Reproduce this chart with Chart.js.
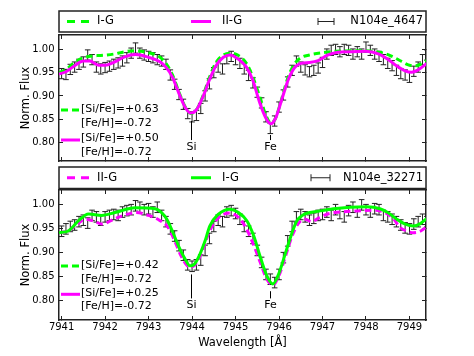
<!DOCTYPE html>
<html>
<head>
<meta charset="utf-8">
<style>
  html, body { margin: 0; padding: 0; background: #fff; }
  #wrap { position: relative; width: 474px; height: 356px; }
  #wrap canvas { position: absolute; left: 0; }
  #topChart { top: 0; }
  #botChart { top: 166px; }
</style>
<script src="https://cdn.jsdelivr.net/npm/chart.js@4.4.0/dist/chart.umd.min.js"></script>
</head>
<body>
<div id="wrap">
  <canvas id="topChart" width="474" height="166"></canvas>
  <canvas id="botChart" width="474" height="190"></canvas>
</div>
<script>
// Observed spectrum of two N104e stars around the Si 7944 / Fe 7946 lines,
// with synthetic I-G / II-G fits.

// ---- data ----
const WAVE = [
  7941.0, 7941.1, 7941.2, 7941.3, 7941.4, 7941.5, 7941.6, 7941.7, 7941.8, 7941.9,
  7942.0, 7942.1, 7942.2, 7942.3, 7942.4, 7942.5, 7942.6, 7942.7, 7942.8, 7942.9,
  7943.0, 7943.1, 7943.2, 7943.3, 7943.4, 7943.5, 7943.6, 7943.7, 7943.8, 7943.9,
  7944.0, 7944.1, 7944.2, 7944.3, 7944.4, 7944.5, 7944.6, 7944.7, 7944.8, 7944.9,
  7945.0, 7945.1, 7945.2, 7945.3, 7945.4, 7945.5, 7945.6, 7945.7, 7945.8, 7945.9,
  7946.0, 7946.1, 7946.2, 7946.3, 7946.4, 7946.5, 7946.6, 7946.7, 7946.8, 7946.9,
  7947.0, 7947.1, 7947.2, 7947.3, 7947.4, 7947.5, 7947.6, 7947.7, 7947.8, 7947.9,
  7948.0, 7948.1, 7948.2, 7948.3, 7948.4, 7948.5, 7948.6, 7948.7, 7948.8, 7948.9,
  7949.0, 7949.1, 7949.2, 7949.3, 7949.4
];

const OBS_4647 = [
  0.948, 0.946, 0.957, 0.962, 0.968, 0.973, 0.988, 0.978, 0.962, 0.958,
  0.961, 0.964, 0.968, 0.971, 0.975, 0.982, 0.992, 1.003, 0.992, 0.988,
  0.985, 0.982, 0.978, 0.975, 0.968, 0.945, 0.925, 0.903, 0.882, 0.862,
  0.855, 0.858, 0.873, 0.900, 0.926, 0.950, 0.962, 0.958, 0.980, 0.985,
  0.978, 0.970, 0.958, 0.944, 0.928, 0.908, 0.885, 0.855, 0.830, 0.846,
  0.876, 0.902, 0.930, 0.955, 0.975, 0.962, 0.956, 0.952, 0.955, 0.960,
  0.972, 0.990, 0.998, 1.000, 0.995, 1.000, 0.998, 0.990, 0.995, 0.990,
  1.005, 0.998, 0.990, 0.985, 0.978, 0.970, 0.965, 0.955, 0.948, 0.945,
  0.940, 0.953, 0.962, 0.978, 0.988
];

const OBS_32271 = [
  0.945, 0.950, 0.955, 0.958, 0.965, 0.968, 0.962, 0.978, 0.975, 0.968,
  0.975, 0.978, 0.980, 0.978, 0.985, 0.988, 0.990, 0.998, 0.995, 0.990,
  0.992, 0.985, 0.995, 0.978, 0.965, 0.950, 0.935, 0.915, 0.895, 0.875,
  0.872, 0.875, 0.885, 0.905, 0.930, 0.955, 0.968, 0.965, 0.985, 0.988,
  0.982, 0.970, 0.955, 0.945, 0.930, 0.905, 0.880, 0.855, 0.845, 0.838,
  0.855, 0.890, 0.925, 0.955, 0.975, 0.980, 0.975, 0.968, 0.972, 0.978,
  0.980, 0.985, 0.978, 0.990, 0.982, 0.975, 0.988, 0.995, 0.985, 1.000,
  0.990, 0.985, 0.992, 0.990, 0.978, 0.975, 0.970, 0.965, 0.958, 0.952,
  0.950, 0.960, 0.965, 0.970, 0.965
];

const ERR_4647 = 0.011;
const ERR_32271 = 0.011;

// synthetic fits, N104e_4647
const T_IIG_WAVE = [7940.94, 7941.10, 7941.30, 7941.50, 7941.65, 7941.85, 7942.00, 7942.20, 7942.45, 7942.70,
  7943.00, 7943.25, 7943.40, 7943.55, 7943.70, 7943.85, 7943.97, 7944.10, 7944.25, 7944.40,
  7944.55, 7944.72, 7944.87, 7945.05, 7945.25, 7945.40, 7945.55, 7945.70, 7945.81, 7945.92,
  7946.05, 7946.20, 7946.35, 7946.50, 7946.70, 7946.90, 7947.10, 7947.30, 7947.70, 7948.00,
  7948.30, 7948.50, 7948.70, 7948.90, 7949.05, 7949.20, 7949.40];
const T_IIG_FLUX = [0.947, 0.952, 0.965, 0.975, 0.975, 0.966, 0.966, 0.972, 0.984, 0.989,
  0.983, 0.974, 0.962, 0.940, 0.905, 0.874, 0.863, 0.870, 0.898, 0.935,
  0.965, 0.983, 0.988, 0.980, 0.962, 0.933, 0.887, 0.852, 0.840, 0.852,
  0.888, 0.932, 0.960, 0.970, 0.972, 0.976, 0.987, 0.993, 0.995, 0.996,
  0.990, 0.979, 0.965, 0.954, 0.951, 0.956, 0.970];

const T_IG_WAVE = [7940.94, 7941.10, 7941.30, 7941.50, 7941.70, 7941.90, 7942.20, 7942.45, 7942.70, 7943.00,
  7943.25, 7943.40, 7943.55, 7943.70, 7943.85, 7943.97, 7944.10, 7944.25, 7944.40, 7944.55,
  7944.72, 7944.90, 7945.05, 7945.25, 7945.40, 7945.55, 7945.70, 7945.81, 7945.92, 7946.05,
  7946.20, 7946.35, 7946.50, 7946.70, 7947.00, 7947.30, 7947.70, 7948.00, 7948.40, 7948.60,
  7948.80, 7949.00, 7949.15, 7949.40];
const T_IG_FLUX = [0.950, 0.957, 0.972, 0.982, 0.986, 0.987, 0.990, 0.995, 0.997, 0.993,
  0.984, 0.970, 0.945, 0.908, 0.875, 0.862, 0.870, 0.900, 0.940, 0.972,
  0.988, 0.992, 0.988, 0.970, 0.940, 0.900, 0.858, 0.842, 0.852, 0.890,
  0.938, 0.968, 0.982, 0.988, 0.993, 0.996, 0.997, 0.997, 0.992, 0.985,
  0.975, 0.966, 0.965, 0.976];

// synthetic fits, N104e_32271
const B_IG_WAVE = [7940.94, 7941.16, 7941.39, 7941.62, 7941.92, 7942.23, 7942.69, 7943.15, 7943.30, 7943.42,
  7943.53, 7943.70, 7943.84, 7943.95, 7944.05, 7944.18, 7944.30, 7944.41, 7944.60, 7944.87,
  7945.05, 7945.26, 7945.42, 7945.56, 7945.72, 7945.86, 7946.00, 7946.15, 7946.30, 7946.41,
  7946.55, 7946.71, 7947.00, 7947.25, 7948.02, 7948.32, 7948.50, 7948.71, 7948.90, 7949.09,
  7949.25, 7949.40];
const B_IG_FLUX = [0.942, 0.946, 0.967, 0.981, 0.978, 0.984, 0.994, 0.992, 0.984, 0.970,
  0.949, 0.912, 0.887, 0.873, 0.876, 0.897, 0.925, 0.956, 0.980, 0.991,
  0.985, 0.967, 0.935, 0.894, 0.852, 0.835, 0.858, 0.900, 0.942, 0.967,
  0.979, 0.984, 0.988, 0.992, 0.996, 0.992, 0.984, 0.970, 0.960, 0.956,
  0.961, 0.972];

const B_IIG_WAVE = [7940.94, 7941.16, 7941.39, 7941.54, 7941.75, 7941.92, 7942.20, 7942.45, 7942.71, 7943.00,
  7943.25, 7943.45, 7943.60, 7943.75, 7943.88, 7943.97, 7944.08, 7944.22, 7944.38, 7944.55,
  7944.87, 7945.05, 7945.22, 7945.40, 7945.56, 7945.72, 7945.86, 7946.00, 7946.15, 7946.30,
  7946.45, 7946.60, 7946.75, 7946.90, 7947.12, 7947.40, 7947.70, 7948.20, 7948.45, 7948.62,
  7948.78, 7948.95, 7949.09, 7949.25, 7949.40];
const B_IIG_FLUX = [0.942, 0.946, 0.962, 0.970, 0.966, 0.960, 0.970, 0.979, 0.984, 0.978,
  0.968, 0.953, 0.925, 0.893, 0.874, 0.870, 0.876, 0.900, 0.940, 0.968,
  0.983, 0.975, 0.955, 0.920, 0.882, 0.845, 0.833, 0.853, 0.893, 0.935,
  0.962, 0.970, 0.965, 0.972, 0.981, 0.985, 0.987, 0.989, 0.983, 0.972,
  0.953, 0.945, 0.942, 0.945, 0.955];

// line identifications
const LINE_ID = ["Si", "Fe"];
const LINE_WAVE = [7943.98, 7945.80];
const T_MARK_TOP = [0.846, 0.816];
const B_MARK_TOP = [0.855, 0.820];
const MARK_BOTTOM = 0.805;
const LABEL_FLUX = 0.790;

const X_MIN = 7940.94, X_MAX = 7949.38;
const Y_MIN = 0.76, Y_MAX = 1.031;

// ---- style ----
const FONT = "'DejaVu Sans', sans-serif";
const GREEN = "#00ff00";
const MAGENTA = "#ff00ff";
const FRAME = "#222";
const ERRC = "#222";

const pts = (xs, ys) => xs.map((x, i) => ({ x, y: ys[i] }));

function modelSet(xs, ys, color, dashed, order) {
  return {
    data: pts(xs, ys), showLine: true, borderColor: color, borderWidth: 3,
    borderDash: dashed ? [6.5, 4] : [], pointRadius: 0, cubicInterpolationMode: "monotone",
    order,
  };
}

function errorSets(obs, err) {
  const seg = [];
  WAVE.forEach((w, i) => {
    seg.push({ x: w, y: obs[i] - err }, { x: w, y: obs[i] + err }, { x: w, y: null });
  });
  const cap = (sign) => ({
    data: WAVE.map((w, i) => ({ x: w, y: obs[i] + sign * err })),
    showLine: false, pointStyle: "line", pointRadius: 2.8, borderColor: ERRC, borderWidth: 1, order: 5,
  });
  return [
    { data: seg, showLine: true, spanGaps: false, borderColor: ERRC, borderWidth: 1, pointRadius: 0, order: 5 },
    cap(-1), cap(1),
  ];
}

function strokeSeg(ctx, x0, x1, y, color, width, dash) {
  ctx.save();
  ctx.strokeStyle = color; ctx.lineWidth = width; ctx.setLineDash(dash || []);
  ctx.beginPath(); ctx.moveTo(x0, y); ctx.lineTo(x1, y); ctx.stroke();
  ctx.restore();
}

// legend box, in-panel notes and line identifications
const decor = {
  id: "decor",
  afterDraw(chart, args, o) {
    const { ctx, chartArea: a, scales: { x, y } } = chart;
    ctx.save();
    ctx.fillStyle = "#000";
    ctx.textBaseline = "middle";

    // legend box above the panel
    ctx.strokeStyle = FRAME; ctx.lineWidth = 1.5;
    ctx.strokeRect(a.left, o.boxTop, a.right - a.left, o.boxH);
    const cy = o.boxTop + o.boxH / 2;
    ctx.font = `11.5px ${FONT}`;
    ctx.textAlign = "left";
    o.entries.forEach((e) => {
      strokeSeg(ctx, e.x0, e.x1, cy, e.color, 3, e.dashed ? [8, 6] : []);
      ctx.fillText(e.text, e.tx, cy);
    });
    // errorbar symbol + star name
    ctx.strokeStyle = ERRC; ctx.lineWidth = 1;
    ctx.beginPath();
    ctx.moveTo(o.errX0, cy); ctx.lineTo(o.errX1, cy);
    ctx.moveTo(o.errX0, cy - 3.5); ctx.lineTo(o.errX0, cy + 3.5);
    ctx.moveTo(o.errX1, cy - 3.5); ctx.lineTo(o.errX1, cy + 3.5);
    ctx.stroke();
    ctx.textAlign = "right";
    ctx.fillText(o.star, a.right - 3, cy);

    // abundance notes inside the panel
    ctx.font = `11px ${FONT}`;
    ctx.textAlign = "left";
    o.notes.forEach((n) => {
      if (n.color) strokeSeg(ctx, a.left + 2, a.left + 21, n.ly, n.color, 3, n.dashed ? [7, 4] : []);
      ctx.fillText(n.text, a.left + 22, n.y);
    });

    // Si / Fe markers
    ctx.strokeStyle = "#000"; ctx.lineWidth = 1;
    ctx.textAlign = "center";
    LINE_ID.forEach((name, i) => {
      const px = Math.round(x.getPixelForValue(LINE_WAVE[i])) + 0.5;
      ctx.beginPath();
      ctx.moveTo(px, y.getPixelForValue(o.markTop[i]));
      ctx.lineTo(px, y.getPixelForValue(MARK_BOTTOM));
      ctx.stroke();
      ctx.fillText(name, px, y.getPixelForValue(LABEL_FLUX));
    });
    ctx.restore();
  },
};

function axisX(pos, h, labels) {
  return {
    type: "linear", axis: "x", position: pos, min: X_MIN, max: X_MAX,
    afterFit: (s) => { s.height = h; s.paddingLeft = 0; s.paddingRight = 0; },
    grid: { drawOnChartArea: false, tickLength: -4, color: FRAME, lineWidth: 1 },
    border: { color: FRAME, width: 1.5 },
    ticks: {
      display: labels, stepSize: 1, includeBounds: false, padding: 5, maxRotation: 0, autoSkip: false,
      color: "#000", font: { family: FONT, size: 10 }, callback: (v) => String(v),
    },
    title: {
      display: labels, text: "Wavelength [Å]", color: "#000",
      font: { family: FONT, size: 11.5 }, padding: { top: 0, bottom: 6 },
    },
  };
}

function axisY(pos, w, labels) {
  return {
    type: "linear", axis: "y", position: pos, min: Y_MIN, max: Y_MAX,
    // fixed width; no extra top/bottom margin for the end labels
    afterFit: (s) => { s.width = w; s.paddingTop = 0; s.paddingBottom = 0; },
    grid: { drawOnChartArea: false, tickLength: -4, color: FRAME, lineWidth: 1 },
    border: { color: FRAME, width: 1.5 },
    ticks: {
      display: labels, stepSize: 0.05, includeBounds: false, padding: 8.5,
      color: "#000", font: { family: FONT, size: 10 }, callback: (v) => v.toFixed(2),
    },
    title: {
      display: labels, text: "Norm. Flux", color: "#000",
      font: { family: FONT, size: 11.5 }, padding: { top: 4, bottom: 0 },
    },
  };
}

function makeChart(id, cfg) {
  return new Chart(document.getElementById(id), {
    type: "scatter",
    data: { datasets: cfg.datasets },
    options: {
      responsive: false, animation: false, events: [],
      layout: { padding: cfg.padding },
      plugins: { legend: { display: false }, tooltip: { enabled: false }, decor: cfg.decor },
      scales: {
        x: axisX("bottom", cfg.xHeight, cfg.xLabels),
        x2: axisX("top", 0, false),
        y: axisY("left", 44, true),
        y2: axisY("right", 48, false),
      },
    },
    plugins: [decor],
  });
}

makeChart("topChart", {
  padding: { left: 15, right: 0, top: 35, bottom: 1 },
  xHeight: 0, xLabels: false,
  datasets: [
    modelSet(T_IIG_WAVE, T_IIG_FLUX, MAGENTA, false, 0),
    modelSet(T_IG_WAVE, T_IG_FLUX, GREEN, true, 1),
    ...errorSets(OBS_4647, ERR_4647),
  ],
  decor: {
    boxTop: 11, boxH: 21, star: "N104e_4647", errX0: 318, errX1: 334,
    entries: [
      { x0: 67, x1: 90, color: GREEN, dashed: true, text: "I-G", tx: 97 },
      { x0: 191, x1: 211, color: MAGENTA, dashed: false, text: "II-G", tx: 222 },
    ],
    notes: [
      { text: "[Si/Fe]=+0.63", y: 109, ly: 110, color: GREEN, dashed: true },
      { text: "[Fe/H]=-0.72", y: 123 },
      { text: "[Si/Fe]=+0.50", y: 138, ly: 140, color: MAGENTA, dashed: false },
      { text: "[Fe/H]=-0.72", y: 152 },
    ],
    markTop: T_MARK_TOP,
  },
});

makeChart("botChart", {
  padding: { left: 15, right: 0, top: 24, bottom: 0 },
  xHeight: 36, xLabels: true,
  datasets: [
    modelSet(B_IG_WAVE, B_IG_FLUX, GREEN, false, 0),
    modelSet(B_IIG_WAVE, B_IIG_FLUX, MAGENTA, true, 1),
    ...errorSets(OBS_32271, ERR_32271),
  ],
  decor: {
    boxTop: 1, boxH: 21.5, star: "N104e_32271", errX0: 311, errX1: 330,
    entries: [
      { x0: 67, x1: 90, color: MAGENTA, dashed: true, text: "II-G", tx: 97 },
      { x0: 191, x1: 211, color: GREEN, dashed: false, text: "I-G", tx: 222 },
    ],
    notes: [
      { text: "[Si/Fe]=+0.42", y: 99, ly: 100, color: GREEN, dashed: true },
      { text: "[Fe/H]=-0.72", y: 112.7 },
      { text: "[Si/Fe]=+0.25", y: 126.7, ly: 128.3, color: MAGENTA, dashed: false },
      { text: "[Fe/H]=-0.72", y: 140 },
    ],
    markTop: B_MARK_TOP,
  },
});
</script>
</body>
</html>
